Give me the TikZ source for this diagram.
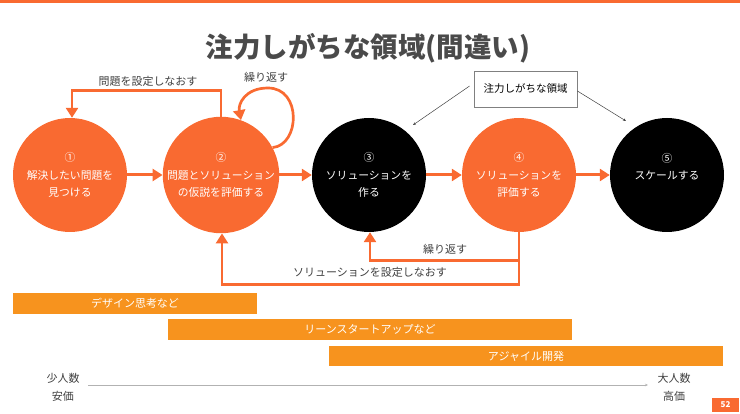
\documentclass[tikz,border=0pt]{standalone}
\usepackage{fontspec}
\setmainfont{Noto Sans CJK JP}
\usetikzlibrary{arrows.meta,calc}
\definecolor{orR}{HTML}{F96A31}
\definecolor{orB}{HTML}{F7931E}
\definecolor{txt}{HTML}{404040}
\definecolor{ttl}{HTML}{4A4A4A}
\begin{document}
\begin{tikzpicture}[x=1pt,y=-1pt,
  circ/.style={circle, minimum size=114pt, inner sep=0pt, text=white, font=\fontsize{10.8}{17.5}\selectfont, align=center},
  ocirc/.style={circ, fill=orR},
  bcirc/.style={circ, fill=black},
  flow/.style={draw=orR, line width=3pt, -{Triangle[length=10pt,width=12pt]}},
  back/.style={draw=orR, line width=2.7pt, -{Triangle[length=10pt,width=12pt]}},
  lbl/.style={text=txt, font=\fontsize{11}{18}\selectfont, inner sep=0pt},
  bar/.style={fill=orB, text=white, inner sep=0pt, minimum height=21pt, font=\fontsize{11}{13}\selectfont},
  note/.style={draw=txt, line width=0.5pt, -{Stealth[length=3pt,width=2.5pt]}},
  axisline/.style={draw=gray!60, line width=0.8pt, -{Stealth[length=3pt,width=2.5pt]}}
]
\useasboundingbox (0,0) rectangle (740,414);
\fill[orR] (0,0) rectangle (740,3);

\node[font=\fontsize{27.5}{30}\selectfont\bfseries, text=ttl] (title) at (368,48) {注力しがちな領域(間違い)};

\node[ocirc] (c1) at (70,175) {①\\解決したい問題を\\見つける};
\node[ocirc] (c2) at (221,175) {②\\問題とソリューション\\の仮説を評価する};
\node[bcirc] (c3) at (369,175) {③\\ソリューションを\\作る};
\node[ocirc] (c4) at (519,175) {④\\ソリューションを\\評価する};
\node[bcirc] (c5) at (667,175) {⑤\\スケールする\\\mbox{}};

\draw[flow] (c1) -- (c2);
\draw[flow] (c2) -- (c3);
\draw[flow] (c3) -- (c4);
\draw[flow] (c4) -- (c5);

% redo problem
\draw[back] (c2.north) -- ++(0,-26) -| ([xshift=2pt]c1.north);
\node[lbl] (l1) at (148,81) {問題を設定しなおす};

% self loop
\draw[back] (c2.28) .. controls (300,145) and (302,88) .. (268,88) .. controls (245,88) and (238,104) .. (c2.70);
\node[lbl] (l2) at (266,77) {繰り返す};

% bottom loops
\draw[back] (c4.south) -- ++(0,28) -| ([xshift=1pt]c3.south);
\draw[back] (c4.south) -- ++(0,52) -| ([xshift=1pt]c2.south);
\node[lbl] (l3) at (445,249) {繰り返す};
\node[lbl] (l4) at (370,272) {ソリューションを設定しなおす};

% note box
\node[draw=gray, line width=0.8pt, minimum width=103pt, minimum height=36pt, inner sep=0pt, text=black, font=\fontsize{10.5}{13}\selectfont] (box) at (525.5,89) {注力しがちな領域};
\coordinate (n3) at (413,125);
\coordinate (n5) at (626,121);
\draw[note] ([xshift=-4pt,yshift=3pt]box.west) -- (n3);
\draw[note] ([yshift=-2pt]box.east) -- (n5);

% bars
\node[bar, minimum width=244pt] (b1) at (135,303.5) {デザイン思考など};
\node[bar, minimum width=404pt] (b2) at (370,329.5) {リーンスタートアップなど};
\node[bar, minimum width=394pt, minimum height=20pt] (b3) at (526,356) {アジャイル開発};

% axis
\node[lbl, align=center] (lo) at (63,387) {少人数\\安価};
\node[lbl, align=center] (hi) at (674,387) {大人数\\高価};
\coordinate (axL) at (88,385);
\coordinate (axR) at (648,385);
\draw[axisline] (axL) -- (axR);

\node[fill=orR, text=white, font=\fontsize{8}{9}\selectfont\bfseries, minimum width=27pt, minimum height=14pt, inner sep=0pt] (pg) at (725.5,405) {52};
\end{tikzpicture}
\end{document}
